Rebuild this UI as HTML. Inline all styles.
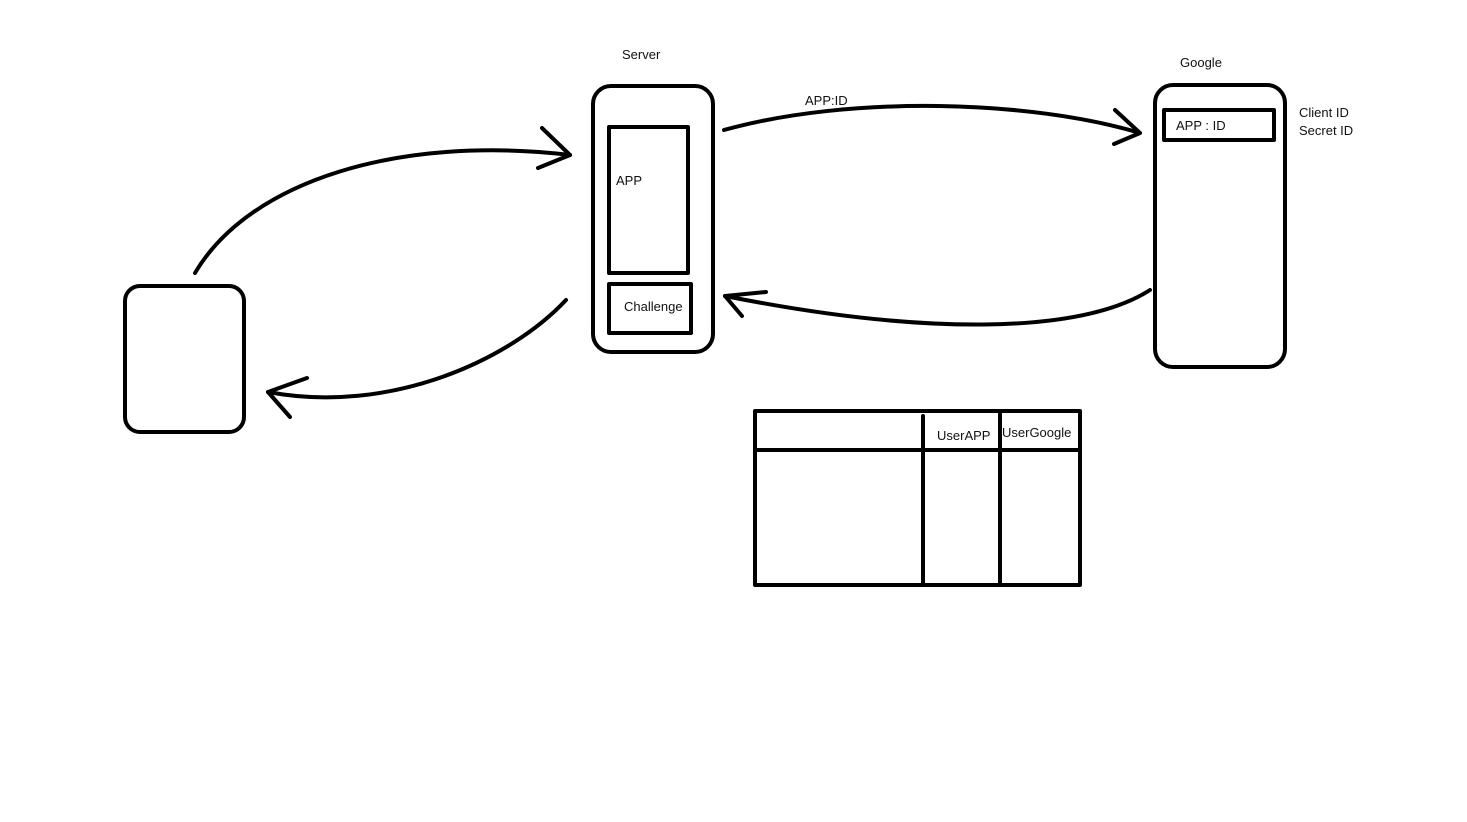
<!DOCTYPE html>
<html><head><style>
html,body{margin:0;padding:0;background:#fff;width:1467px;height:822px;overflow:hidden}
svg{display:block}
text{font-family:"Liberation Sans",sans-serif;font-size:13px;fill:#111}
</style></head><body>
<svg width="1467" height="822" viewBox="0 0 1467 822">
<g fill="none" stroke="#000" stroke-width="4" stroke-linecap="round" stroke-linejoin="round">
<rect x="593" y="86" width="120" height="266" rx="18"/>
<rect x="609" y="127" width="79" height="146"/>
<rect x="609" y="284" width="82" height="49"/>
<rect x="1155" y="85" width="130" height="282" rx="18"/>
<rect x="1164" y="110" width="110" height="30"/>
<rect x="125" y="286" width="119" height="146" rx="15"/>
<rect x="755" y="411" width="325" height="174"/>
<line x1="755" y1="450" x2="1080" y2="450"/>
<line x1="923" y1="416" x2="923" y2="585"/>
<line x1="1000" y1="411" x2="1000" y2="585"/>
<path d="M195 273 C250 180 400 135 570 155"/>
<path d="M542 128 L570 155 L538 168"/>
<path d="M566 300 C510 360 390 415 268 392"/>
<path d="M307 378 L268 392 L290 417"/>
<path d="M724 130 C850 95 1030 100 1140 133"/>
<path d="M1115 110 L1140 133 L1114 144"/>
<path d="M1150 290 C1080 335 920 335 725 296"/>
<path d="M766 292 L725 296 L742 316"/>
</g>
<text x="622" y="59">Server</text>
<text x="1180" y="67">Google</text>
<text x="805" y="105">APP:ID</text>
<text x="1299" y="117">Client ID</text>
<text x="1299" y="135">Secret ID</text>
<text x="616" y="185">APP</text>
<text x="624" y="311">Challenge</text>
<text x="1176" y="130">APP : ID</text>
<text x="937" y="440">UserAPP</text>
<text x="1002" y="437">UserGoogle</text>
</svg>
</body></html>
